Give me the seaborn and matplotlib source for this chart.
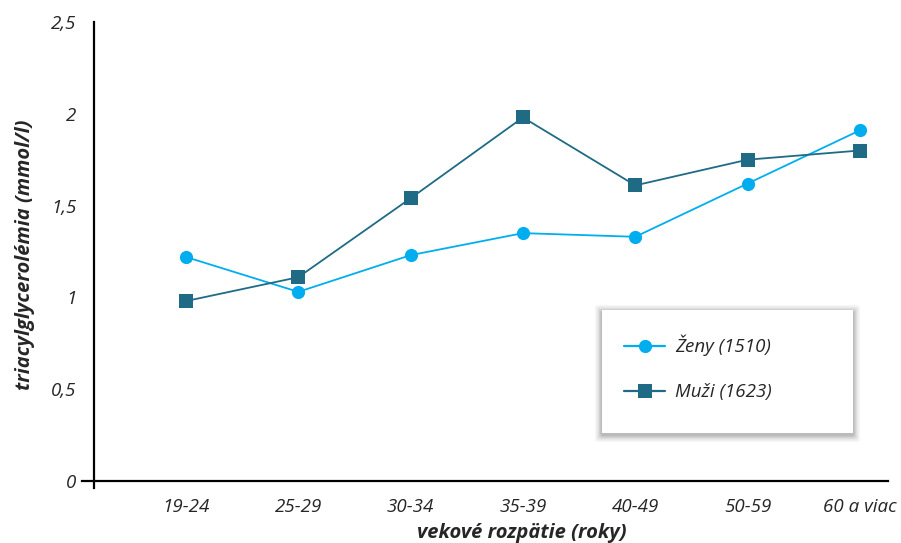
import matplotlib
matplotlib.use("Agg")
import matplotlib.pyplot as plt
from matplotlib.patches import FancyBboxPatch
import seaborn as sns
import pandas as pd

# Age groups and mean triacylglycerol levels (mmol/l)
age_groups = ["19-24", "25-29", "30-34", "35-39", "40-49", "50-59", "60 a viac"]
zeny = [1.22, 1.03, 1.23, 1.35, 1.33, 1.62, 1.91]
muzi = [0.98, 1.11, 1.54, 1.98, 1.61, 1.75, 1.80]
series_names = ["Ženy (1510)", "Muži (1623)"]
y_ticks = [0, 0.5, 1, 1.5, 2, 2.5]
y_tick_labels = ["0", "0,5", "1", "1,5", "2", "2,5"]

colors = {series_names[0]: "#00AEEF", series_names[1]: "#1F6B85"}
markers = {series_names[0]: "o", series_names[1]: "s"}

df = pd.DataFrame({
    "vek": age_groups * 2,
    "hodnota": zeny + muzi,
    "skupina": [series_names[0]] * len(age_groups) + [series_names[1]] * len(age_groups),
})

sns.set_style("white")
plt.rcParams["font.family"] = ["Open Sans", "DejaVu Sans"]

fig = plt.figure(figsize=(9.01, 5.43), dpi=100)
ax = fig.add_axes([0.091, 0.1007, 0.8946, 0.8588])

sns.lineplot(data=df, x="vek", y="hodnota", hue="skupina", style="skupina",
             palette=colors, markers=markers, dashes=False, sort=False,
             linewidth=1.3, markersize=9.5, markeredgewidth=0, ax=ax, legend=False)

ax.set_xlim(-0.926, 6.25)
ax.set_ylim(-0.04, 2.5)

for side in ["top", "right"]:
    ax.spines[side].set_visible(False)
ax.spines["left"].set_position(("data", -0.82))
ax.spines["bottom"].set_position(("data", 0))
for side in ["left", "bottom"]:
    ax.spines[side].set_linewidth(1.6)
    ax.spines[side].set_color("black")

tick_font = {"size": 13.5, "style": "italic"}
ax.set_yticks(y_ticks)
ax.set_yticklabels(y_tick_labels, fontdict=tick_font)
ax.set_xticks(range(len(age_groups)))
ax.set_xticklabels(age_groups, fontdict=tick_font)
ax.tick_params(axis="y", direction="out", length=6.5, width=1.0, pad=6, color="black")
ax.tick_params(axis="x", direction="out", length=9.5, width=1.0, pad=3, color="black")

ax.set_xlabel("vekové rozpätie (roky)", fontsize=14.5, fontweight="bold", style="italic")
ax.xaxis.set_label_coords(0.546, -0.074)
ax.set_ylabel("triacylglycerolémia (mmol/l)", fontsize=14.5, fontweight="bold", style="italic")
ax.yaxis.set_label_coords(-0.058, 0.5)

# Legend panel with a soft shadow
W, H = 901, 543
x0, x1, y_top, y_bot = 602, 853, 310, 433
for i, a in enumerate([0.035, 0.045, 0.055, 0.07, 0.09]):
    g = 7 - i * 1.4
    shadow = FancyBboxPatch(((x0 - g) / W, 1 - (y_bot + g + 2) / H),
                            (x1 - x0 + 2 * g) / W, (y_bot - y_top + 2 * g) / H,
                            boxstyle="round,pad=0,rounding_size=0.004",
                            transform=fig.transFigure, facecolor="black",
                            edgecolor="none", alpha=a, zorder=5)
    fig.add_artist(shadow)
panel = FancyBboxPatch((x0 / W, 1 - y_bot / H), (x1 - x0) / W, (y_bot - y_top) / H,
                       boxstyle="square,pad=0", transform=fig.transFigure,
                       facecolor="white", edgecolor="none", zorder=6)
fig.add_artist(panel)

handles = [plt.Line2D([], [], color=colors[n], marker=markers[n], linewidth=1.6,
                      markersize=9.5, markeredgewidth=0) for n in series_names]
leg = fig.legend(handles, series_names, loc="center left",
                 bbox_to_anchor=(607 / W, 1 - 368 / H), frameon=False,
                 prop={"size": 13.5, "style": "italic"}, handlelength=2.2,
                 labelspacing=1.45, handletextpad=0.55)
leg.set_zorder(7)

fig.savefig("out.png", dpi=100)
